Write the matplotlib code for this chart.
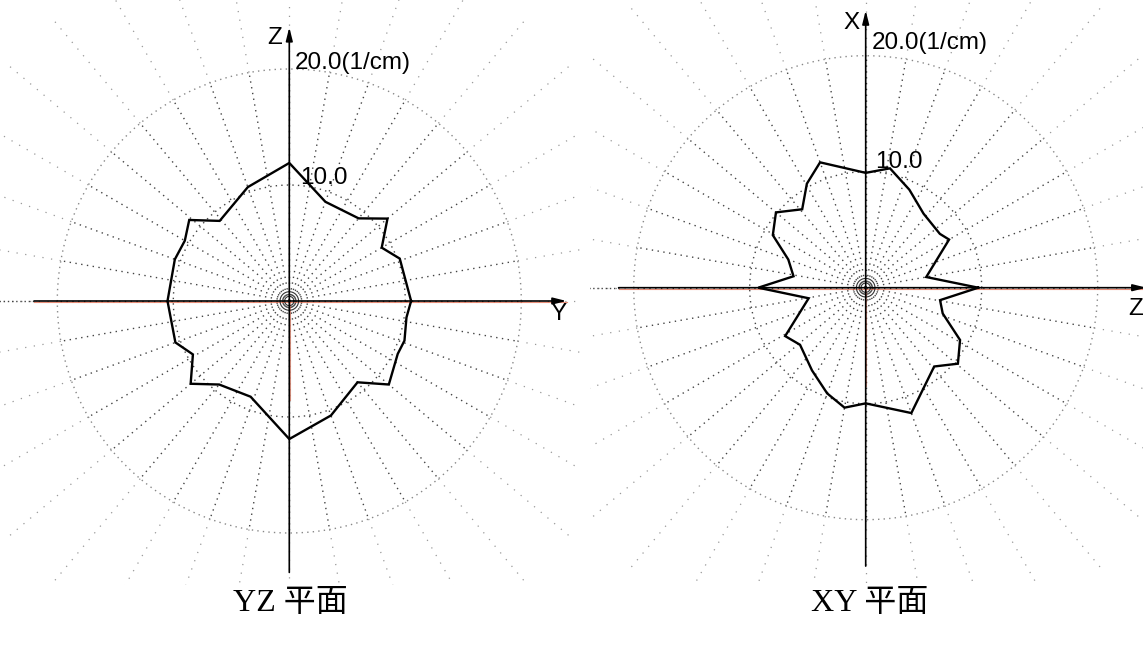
import numpy as np
import matplotlib
matplotlib.use("Agg")
import matplotlib.pyplot as plt

# ---------------- data (angle in degrees, value in 1/cm) ----------------
yz_angles = [0, 21, 30, 40, 50, 70, 90, 110, 131, 141, 150, 160, 180, 200, 209,
             220, 230, 248, 270, 290, 310, 320, 334, 341, 352]
yz_values = [10.5, 10.2, 9.2, 11.05, 9.3, 9.1, 11.9, 10.45, 9.15, 11.1, 10.4, 10.5,
             10.5, 10.45, 9.5, 11.1, 9.4, 8.9, 11.9, 10.5, 9.15, 11.2, 10.4, 10.5, 10.2]

xy_angles = [0, 10, 30, 36, 52, 66, 78.5, 90, 110, 119.5, 129, 140, 150.5, 160, 171,
             180, 190.5, 211, 221, 237, 250, 260, 270, 290, 311, 320.5, 331, 341.5, 350.5]
xy_values = [9.7, 5.3, 8.3, 7.9, 8.1, 9.25, 10.5, 9.9, 11.5, 10.3, 8.7, 10.1, 9.2, 7.1, 6.3,
             9.26, 5.0, 8.1, 7.5, 8.5, 9.7, 10.5, 9.97, 11.5, 9.0, 10.3, 9.3, 7.0, 6.5]

ring_values = [10.0, 20.0]
ring_labels = ["10.0", "20.0(1/cm)"]
spoke_angles = list(range(0, 360, 10))
panel_titles = ["YZ 平面", "XY 平面"]
axis_names = [("Y", "Z"), ("Z", "X")]

W, H = 1143, 650
DPI = 100
fig = plt.figure(figsize=(W / DPI, H / DPI), dpi=DPI)

PX = 11.6  # pixels per unit


def make_axes(px0, px1, py0, py1, cx, cy):
    ax = fig.add_axes([px0 / W, 1 - py1 / H, (px1 - px0) / W, (py1 - py0) / H])
    ax.set_xlim((px0 - cx) / PX, (px1 - cx) / PX)
    ax.set_ylim((cy - py1) / PX, (cy - py0) / PX)
    ax.set_axis_off()
    return ax


def draw_panel(ax, angles, values, hname, vname, hax, vax, lab20, lab10):
    th_s = np.deg2rad(spoke_angles)
    # spokes: inner darker, outer fainter
    for t in th_s:
        ax.plot([0, 20 * np.cos(t)], [0, 20 * np.sin(t)], ls=(0, (1, 3.2)),
                lw=1.0, color="#444444", zorder=1)
        ax.plot([20 * np.cos(t), 32 * np.cos(t)], [20 * np.sin(t), 32 * np.sin(t)],
                ls=(0, (1, 6)), lw=0.9, color="#999999", zorder=1)
    # rings
    tt = np.linspace(0, 2 * np.pi, 400)
    for rv, col in zip(ring_values, ["#444444", "#888888"]):
        ax.plot(rv * np.cos(tt), rv * np.sin(tt), ls=(0, (1, 3)), lw=1.0,
                color=col, zorder=1)
    for rv in [0.4, 0.8]:
        ax.plot(rv * np.cos(tt), rv * np.sin(tt), lw=0.8, color="#333333", zorder=3)
    # faint red scan fringes
    ax.plot([hax[0], hax[1]], [-0.1, -0.1], color="#e06040", lw=0.8, alpha=0.7, zorder=2)
    ax.plot([0.05, 0.05], [0, -8.5], color="#e06040", lw=0.8, alpha=0.6, zorder=2)
    # axes with arrows
    ax.annotate("", xy=(hax[1], 0), xytext=(hax[0], 0),
                arrowprops=dict(arrowstyle="-|>,head_length=0.8,head_width=0.2",
                                lw=1.2, color="black", shrinkA=0, shrinkB=0),
                annotation_clip=False, zorder=4)
    ax.annotate("", xy=(0, vax[1]), xytext=(0, vax[0]),
                arrowprops=dict(arrowstyle="-|>,head_length=0.8,head_width=0.2",
                                lw=1.2, color="black", shrinkA=0, shrinkB=0),
                annotation_clip=False, zorder=4)
    # polygon
    th = np.deg2rad(np.array(angles + [angles[0]], dtype=float))
    r = np.array(values + [values[0]], dtype=float)
    ax.plot(r * np.cos(th), r * np.sin(th), color="black", lw=1.7, zorder=5,
            solid_joinstyle="miter")
    fs = 17.5
    ax.text(lab20[0], lab20[1], ring_labels[1], fontsize=fs, family="Liberation Sans",
            ha="left", va="baseline", zorder=6)
    ax.text(lab10[0], lab10[1], ring_labels[0], fontsize=fs, family="Liberation Sans",
            ha="left", va="baseline", zorder=6)
    ax.text(hname[1], hname[2], hname[0], fontsize=fs, family="Liberation Sans",
            ha="left", va="center", zorder=6, clip_on=False)
    ax.text(vname[1], vname[2], vname[0], fontsize=fs, family="Liberation Sans",
            ha="center", va="center", zorder=6)


ax1 = make_axes(0, 580, 0, 585, 289.3, 301)
draw_panel(ax1, yz_angles, yz_values,
           (axis_names[0][0], 22.5, -1.1), (axis_names[0][1], -1.25, 22.7),
           (-22.0, 23.9), (-23.4, 23.6), (0.5, 20.0), (0.9, 10.1))
# dotted extension of horizontal axis on the left
ax1.plot([-25, -22], [0, 0], ls=(0, (1, 2)), lw=1.0, color="#444444")

ax2 = make_axes(590, 1143, 0, 585, 865.7, 287.7)
draw_panel(ax2, xy_angles, xy_values,
           (axis_names[1][0], 22.6, -1.8), (axis_names[1][1], -1.2, 22.8),
           (-21.3, 24.2), (-24.0, 23.9), (0.55, 20.6), (0.8, 10.3))
ax2.plot([-25, -21.3], [0, 0], ls=(0, (1, 2)), lw=1.0, color="#444444")

for x, t in zip([290, 870], panel_titles):
    fig.text(x / W, 1 - 603 / H, t, fontsize=23,
             family=["Liberation Serif", "Noto Sans CJK SC"],
             ha="center", va="center")

fig.savefig("out.png", dpi=DPI, facecolor="white")
